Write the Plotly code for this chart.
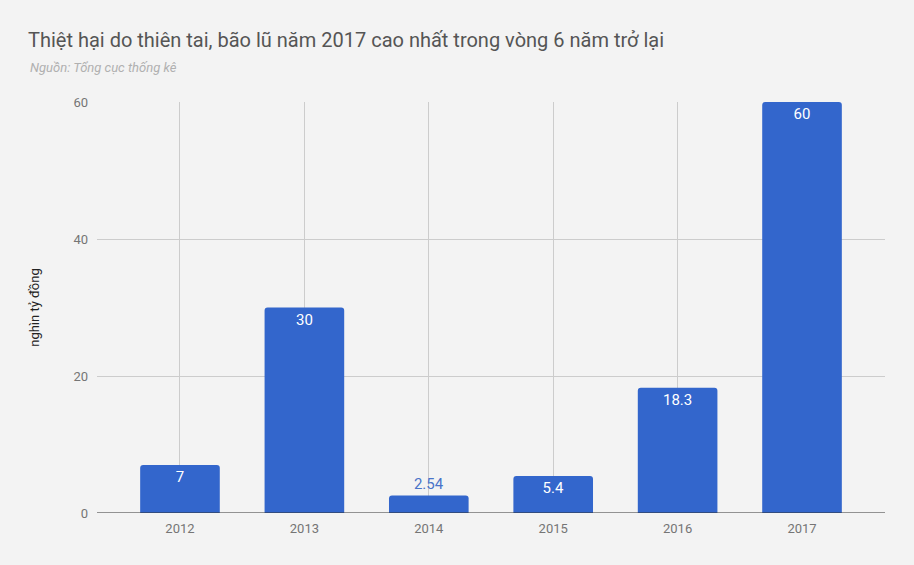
import plotly.graph_objects as go

years = ["2012", "2013", "2014", "2015", "2016", "2017"]
damage = [7, 30, 2.54, 5.4, 18.3, 60]
labels = ["7", "30", "2.54", "5.4", "18.3", "60"]
label_pos = ["inside", "inside", "outside", "inside", "inside", "inside"]
label_colors = ["#ffffff", "#ffffff", "#4a74c9", "#ffffff", "#ffffff", "#ffffff"]

bar_color = "#3366cc"
bg = "#f3f3f3"

fig = go.Figure()
fig.add_trace(go.Bar(
    x=years,
    y=damage,
    text=labels,
    textposition=label_pos,
    insidetextanchor="end",
    textfont=dict(family="Roboto", size=15, color=label_colors),
    marker=dict(color=bar_color, line=dict(width=0)),
    width=0.64,
    cliponaxis=False,
    hoverinfo="x+y",
))

fig.update_layout(
    width=914,
    height=565,
    paper_bgcolor=bg,
    plot_bgcolor=bg,
    margin=dict(l=97, r=29, t=102, b=52),
    barcornerradius=3,
    showlegend=False,
    font=dict(family="Roboto", color="#666666"),
    title=dict(
        text="Thiệt hại do thiên tai, bão lũ năm 2017 cao nhất trong vòng 6 năm trở lại",
        x=28 / 914, xanchor="left",
        y=1 - 40 / 565, yanchor="middle",
        font=dict(family="Roboto", size=20, color="#555555"),
    ),
    annotations=[dict(
        text="<i>Nguồn: Tổng cục thống kê</i>",
        xref="paper", yref="paper",
        x=-69 / 788, xanchor="left",
        y=1 + 35 / 411, yanchor="middle",
        showarrow=False,
        font=dict(family="Roboto", size=13, color="#b0b0b0"),
    )],
)

fig.update_xaxes(
    type="category",
    range=[-0.667, 5.667],
    showgrid=True,
    gridcolor="#cccccc",
    gridwidth=1,
    ticks="",
    ticklabelstandoff=6,
    tickfont=dict(size=13, color="#757575"),
    showline=False,
    zeroline=False,
)

fig.update_yaxes(
    range=[0, 60],
    tickvals=[0, 20, 40, 60],
    showgrid=True,
    gridcolor="#cccccc",
    gridwidth=1,
    zeroline=False,
    showline=False,
    ticks="",
    ticklabelstandoff=8,
    tickfont=dict(size=13, color="#757575"),
    title=dict(text="nghìn tỷ đồng", standoff=30,
               font=dict(family="Roboto", size=13, color="#222222")),
)

# dark baseline at zero
fig.add_hline(y=0, line=dict(color="#333333", width=1.2))

fig.write_html("out.html", config={"displayModeBar": False},
               post_script="document.body.style.margin='0';")
